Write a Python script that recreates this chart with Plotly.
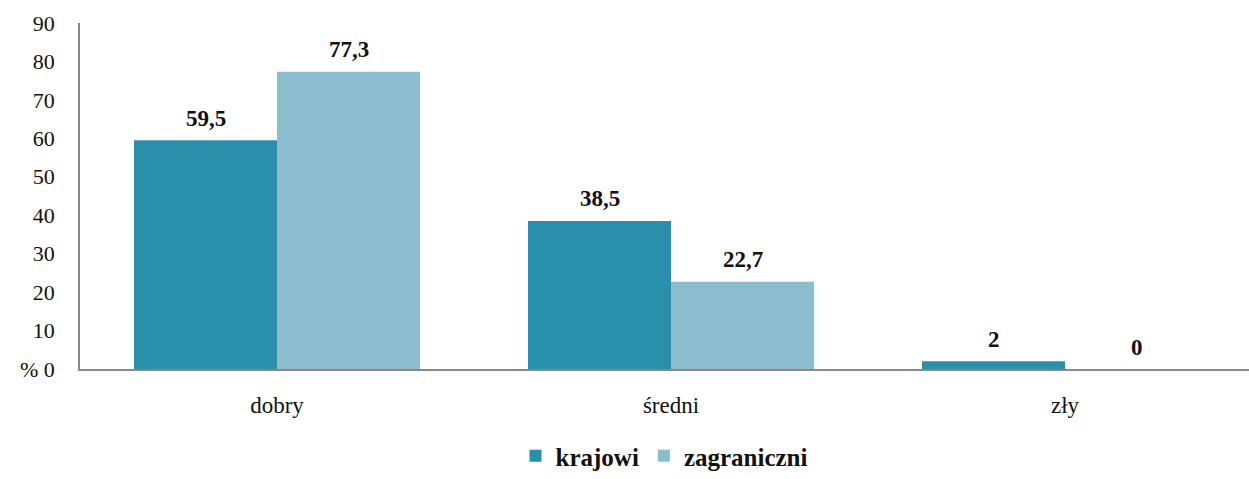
import plotly.graph_objects as go

categories = ["dobry", "średni", "zły"]
krajowi = [59.5, 38.5, 2]
zagraniczni = [77.3, 22.7, 0]
series_names = ["krajowi", "zagraniczni"]
y_ticks = [0, 10, 20, 30, 40, 50, 60, 70, 80, 90]
y_tick_labels = ["% 0", "10", "20", "30", "40", "50", "60", "70", "80", "90"]

colors = ["#2A8FAA", "#8BBDCF"]
font_family = "Liberation Serif, DejaVu Serif, serif"


def fmt(v):
    return ("%g" % v).replace(".", ",")


fig = go.Figure()
for name, vals, col in zip(series_names, [krajowi, zagraniczni], colors):
    fig.add_trace(go.Bar(x=categories, y=vals, name=name, marker_color=col,
                         marker_line_width=0))

# value labels above bars
for vals, shift in [(krajowi, -71.5), (zagraniczni, 71.5)]:
    for cat, v in zip(categories, vals):
        fig.add_annotation(x=cat, y=v, text="<b>%s</b>" % fmt(v), showarrow=False,
                           xshift=shift, yshift=22, font=dict(size=23, color="#111"))

fig.update_layout(
    width=1249, height=479,
    margin=dict(l=80, r=0, t=23, b=110),
    plot_bgcolor="white", paper_bgcolor="white",
    barmode="group", bargap=0.274, bargroupgap=0,
    font=dict(family=font_family, color="#111", size=20),
    showlegend=True,
    legend=dict(orientation="h", x=0.5, xanchor="center", y=-0.318, yanchor="bottom",
                font=dict(size=25, color="#111", weight="bold"), itemwidth=30,
                tracegroupgap=0),
)
fig.update_xaxes(range=[-0.5, 2.467], showline=True, linecolor="#888", linewidth=2,
                 ticks="", tickfont=dict(size=23), ticklabelstandoff=14,
                 automargin=False)
fig.update_yaxes(range=[0, 90], tickvals=y_ticks, ticktext=y_tick_labels,
                 showgrid=False, zeroline=False, showline=True, linecolor="#888",
                 linewidth=1.5, ticks="", tickfont=dict(size=22), ticklabelstandoff=19,
                 automargin=False)

fig.write_html("out.html", config={"displayModeBar": False},
               post_script="document.body.style.margin='0';document.body.style.overflow='hidden';")
